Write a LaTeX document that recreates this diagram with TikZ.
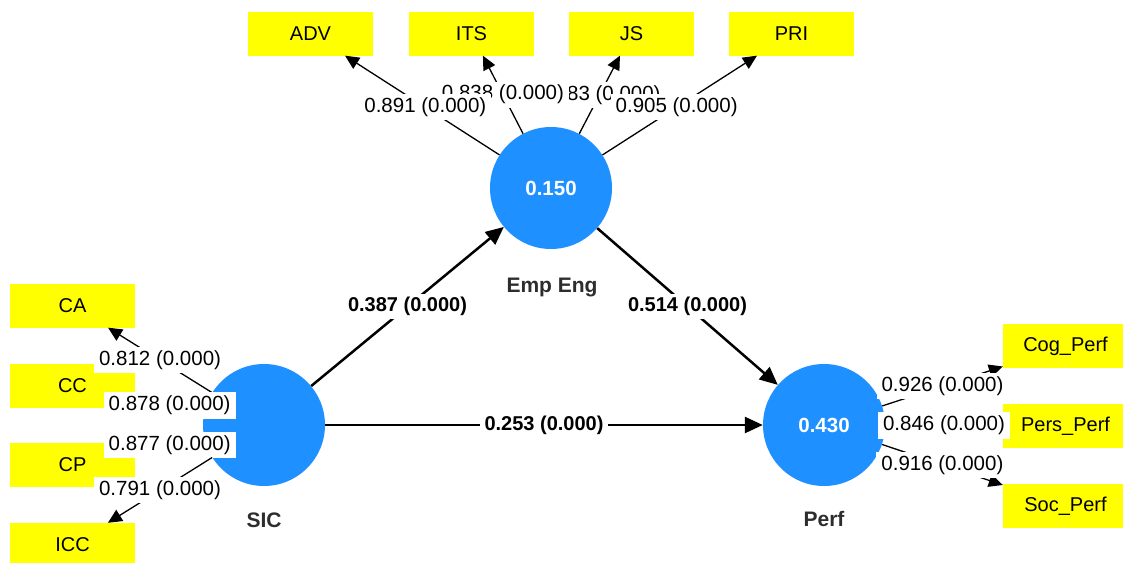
\documentclass[tikz,border=0pt]{standalone}
\usepackage{fontspec}
\setmainfont{Liberation Sans}
\usetikzlibrary{arrows.meta}
\definecolor{lvblue}{RGB}{30,144,255}
\definecolor{indyellow}{RGB}{255,255,0}
\definecolor{lvtext}{RGB}{45,45,45}
\begin{document}
\begin{tikzpicture}[x=1pt,y=-1pt,
  ind/.style={fill=indyellow, minimum width=125pt, minimum height=44pt, inner sep=0pt,
    font=\fontsize{20}{24}\selectfont},
  lv/.style={circle, fill=lvblue, minimum size=122pt, inner sep=0pt, text=white,
    font=\bfseries\fontsize{20.5}{24}\selectfont},
  lvname/.style={font=\bfseries\fontsize{21}{25}\selectfont, text=lvtext},
  loadarrow/.style={line width=1.3pt, -{Triangle[length=14pt,width=13pt]}},
  patharrow/.style={line width=2.5pt, -{Triangle[length=18pt,width=16pt]}},
  wlab/.style={fill=white, inner xsep=5pt, inner ysep=3.5pt, font=\fontsize{20.5}{24}\selectfont},
  blab/.style={wlab, font=\bfseries\fontsize{20}{24}\selectfont},
]
\useasboundingbox (0,0) rectangle (1123,562);
\clip (0,0) rectangle (1123,562);

% latent variables
\node[lv] (EE) at (551,188) {0.150};
\node[lv] (SIC) at (264,425) {};
\node[lv] (PF) at (824,425) {0.430};
\node[lvname] (EEn) at (552,287) {Emp Eng};
\node[lvname] (SICn) at (264,520) {SIC};
\node[lvname] (PFn) at (824,519) {Perf};

% indicators
\node[ind] (ADV) at (310.5,33.5) {ADV};
\node[ind] (ITS) at (471.5,33.5) {ITS};
\node[ind] (JS)  at (631.5,33.5) {JS};
\node[ind] (PRI) at (791.5,33.5) {PRI};
\node[ind] (CA)  at (72.5,305.5) {CA};
\node[ind] (CC)  at (72.5,385.5) {CC};
\node[ind] (CP)  at (72.5,465) {CP};
\node[ind] (ICC) at (72.5,545) {ICC};
\node[ind] (COG) at (1065.5,346) {Cog\_Perf};
\node[ind] (PERS) at (1065.5,426) {Pers\_Perf};
\node[ind] (SOC) at (1065.5,506) {Soc\_Perf};

% structural paths
\draw[patharrow] (SIC) -- (EE) node[pos=0.5, blab] {0.387 (0.000)};
\draw[patharrow] (EE) -- (PF) node[pos=0.5, blab] {0.514 (0.000)};
\draw[patharrow] (SIC) -- (PF) node[pos=0.5, blab] {0.253 (0.000)};

% outer loadings of Emp Eng
\draw[loadarrow] (EE) -- (JS)  node[pos=0.5, wlab] {0.883 (0.000)};
\draw[loadarrow] (EE) -- (ITS) node[pos=0.5, wlab] {0.838 (0.000)};
\draw[loadarrow] (EE) -- (ADV) node[pos=0.48, wlab] {0.891 (0.000)};
\draw[loadarrow] (EE) -- (PRI) node[pos=0.48, wlab] {0.905 (0.000)};

% outer loadings of SIC
\draw[loadarrow] (SIC) -- (CA)  node[pos=0.5, wlab] {0.812 (0.000)};
\draw[loadarrow] (SIC) -- (CC)  node[pos=0.5, wlab] {0.878 (0.000)};
\draw[loadarrow] (SIC) -- (CP)  node[pos=0.5, wlab] {0.877 (0.000)};
\draw[loadarrow] (SIC) -- (ICC) node[pos=0.5, wlab] {0.791 (0.000)};

% outer loadings of Perf
\draw[loadarrow] (PF) -- (COG)  node[pos=0.5, wlab] {0.926 (0.000)};
\draw[loadarrow] (PF) -- (PERS) node[pos=0.5, wlab] {0.846 (0.000)};
\draw[loadarrow] (PF) -- (SOC)  node[pos=0.5, wlab] {0.916 (0.000)};
\end{tikzpicture}
\end{document}
